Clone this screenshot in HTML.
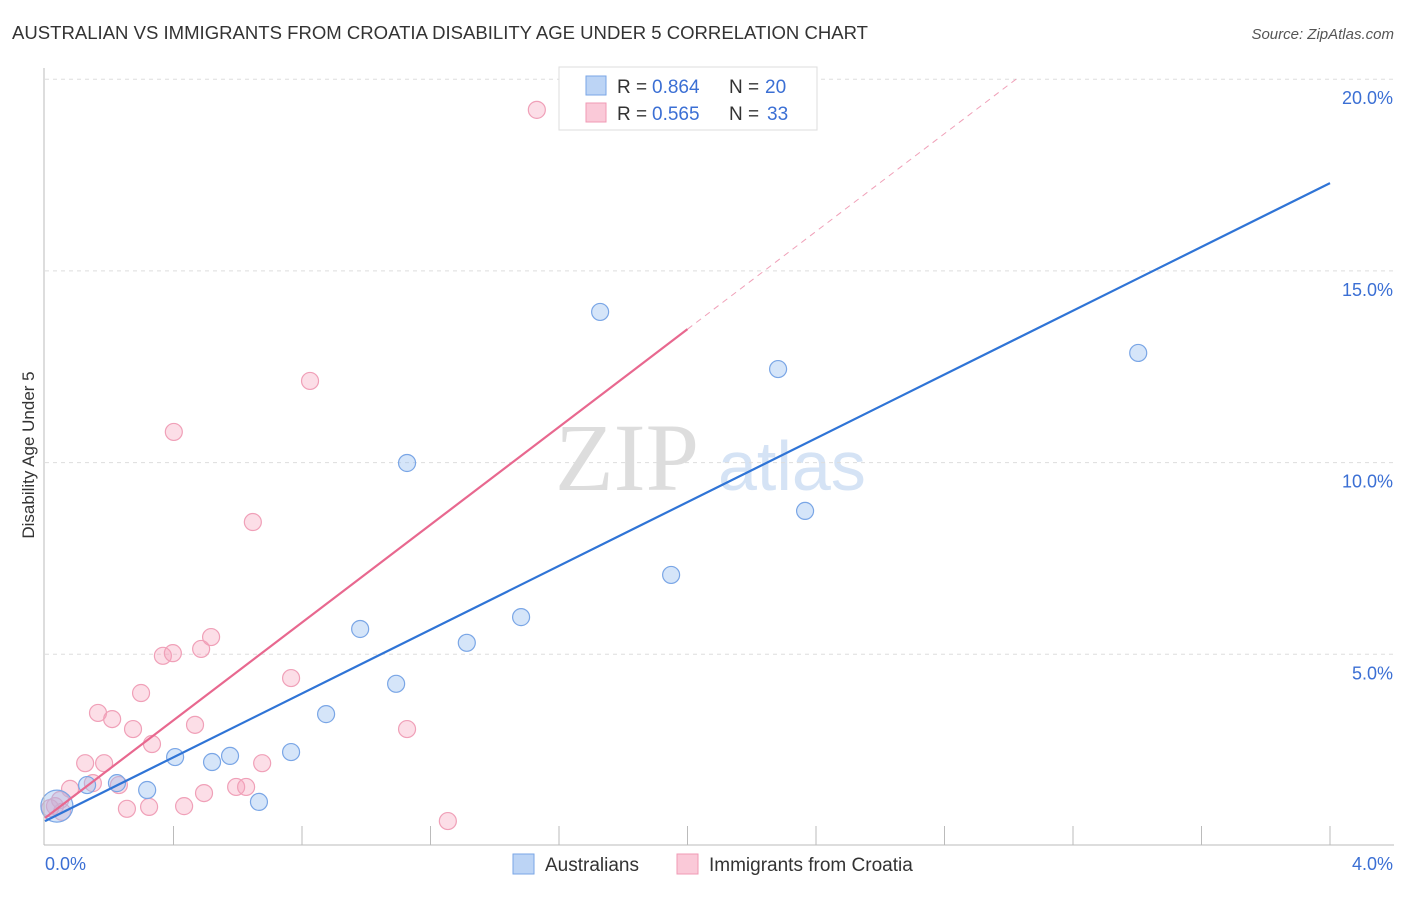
<!DOCTYPE html>
<html><head><meta charset="utf-8"><style>
body{margin:0;background:#fff;font-family:"Liberation Sans",sans-serif}
</style></head><body>
<svg id="c" width="1406" height="892" xmlns="http://www.w3.org/2000/svg">
<text x="12" y="39" font-size="18" fill="#333" textLength="856" lengthAdjust="spacingAndGlyphs">AUSTRALIAN VS IMMIGRANTS FROM CROATIA DISABILITY AGE UNDER 5 CORRELATION CHART</text>
<text x="1394" y="39" font-size="15" fill="#555" font-style="italic" text-anchor="end">Source: ZipAtlas.com</text>
<text transform="translate(34,455) rotate(-90)" font-size="17" fill="#333" text-anchor="middle">Disability Age Under 5</text>
<text x="555" y="490" font-size="96" fill="#ddd" font-family="Liberation Serif">ZIP</text>
<text x="718" y="490" font-size="70" fill="#d5e3f5">atlas</text>
<g id="grid"></g><g id="pts"></g><g id="lines"></g>
<line x1="44" y1="845" x2="1394" y2="845" stroke="#bbb"/>
<line x1="44" y1="68" x2="44" y2="845" stroke="#bbb"/>
<text x="45" y="870" font-size="18" fill="#3b6fd4">0.0%</text>
<text x="1393" y="870" font-size="18" fill="#3b6fd4" text-anchor="end">4.0%</text>
<g>
<rect x="559" y="67" width="258" height="63" fill="#fff" stroke="#ddd"/>
<rect x="586" y="76" width="20" height="19" fill="#bcd4f5" stroke="#7aa6e6"/>
<rect x="586" y="103" width="20" height="19" fill="#fac9d8" stroke="#f09ab5"/>
<text x="617" y="93" font-size="19" fill="#333">R =</text>
<text x="652" y="93" font-size="19" fill="#3b6fd4">0.864</text>
<text x="729" y="93" font-size="19" fill="#333">N =</text>
<text x="765" y="93" font-size="19" fill="#3b6fd4">20</text>
<text x="617" y="120" font-size="19" fill="#333">R =</text>
<text x="652" y="120" font-size="19" fill="#3b6fd4">0.565</text>
<text x="729" y="120" font-size="19" fill="#333">N =</text>
<text x="767" y="120" font-size="19" fill="#3b6fd4">33</text>
</g>
<g>
<rect x="513" y="854" width="21" height="20" fill="#bcd4f5" stroke="#7aa6e6"/>
<text x="545" y="871" font-size="19" fill="#333">Australians</text>
<rect x="677" y="854" width="21" height="20" fill="#fac9d8" stroke="#f09ab5"/>
<text x="709" y="871" font-size="19" fill="#333">Immigrants from Croatia</text>
</g>
</svg>
<script>
const blueX=[0.037,0.131,0.224,0.318,0.405,0.52,0.576,0.666,0.766,0.875,0.981,1.093,1.127,1.313,1.482,1.728,1.949,2.282,2.366,3.403];
const blueY=[1.04,1.59,1.64,1.46,2.32,2.19,2.35,1.15,2.45,3.44,5.66,4.23,9.99,5.30,5.97,13.93,7.07,12.44,8.74,12.86];
const pinkX=[0.031,0.053,0.078,0.125,0.149,0.165,0.184,0.209,0.230,0.255,0.274,0.299,0.324,0.333,0.367,0.398,0.401,0.433,0.467,0.486,0.495,0.517,0.595,0.626,0.647,0.676,0.766,0.825,1.127,1.254,1.531,0.047,0.016];
const pinkY=[1.04,0.89,1.49,2.16,1.64,3.47,2.16,3.31,1.59,0.97,3.05,3.99,1.02,2.66,4.96,5.03,10.80,1.04,3.16,5.14,1.38,5.45,1.54,1.54,8.45,2.16,4.38,12.13,3.05,0.65,19.20,1.20,0.99];
const yTicks=[5,10,15,20];
const yTickLabels=["5.0%","10.0%","15.0%","20.0%"];
const xTicks=[0.4,0.8,1.2,1.6,2.0,2.4,2.8,3.2,3.6,4.0];
const blueLine=[0.65,17.29];
const pinkLine=[0.73,13.48,2.0];
const NS="http://www.w3.org/2000/svg";
const sx=v=>45+v/4*1285, sy=v=>846-v/5*191.7;
function mk(t,a,p){const e=document.createElementNS(NS,t);for(const k in a)e.setAttribute(k,a[k]);p.appendChild(e);return e;}
const g=document.getElementById('grid');
yTicks.forEach((t,i)=>{
 const l=mk('line',{x1:45,x2:1394,y1:sy(t),y2:sy(t),stroke:'#ddd','stroke-dasharray':'4,4'},g);
 
 
 const tx=mk('text',{x:1393,y:sy(t)+25,'font-size':18,fill:'#3b6fd4','text-anchor':'end'},g);
 tx.textContent=yTickLabels[i];
 
 
});
xTicks.forEach(t=>{
 const l=mk('line',{x1:sx(t),x2:sx(t),y1:826,y2:845,stroke:'#bbb'},g);
 
 
});
const p=document.getElementById('pts');
pinkX.forEach((x,i)=>{
 const c=mk('circle',{cx:sx(x),cy:sy(pinkY[i]),r:8.5,fill:'rgba(245,160,185,0.35)',stroke:'#f0a0b8','stroke-width':1.2},p);
 
 
});
blueX.forEach((x,i)=>{
 const c=mk('circle',{cx:sx(x),cy:sy(blueY[i]),r:i==0?16:8.5,fill:'rgba(150,190,240,0.4)',stroke:'#7aa6e6','stroke-width':1.2},p);
 
 
});
const L=document.getElementById('lines');
let b=mk('line',{x1:sx(0),y1:sy(blueLine[0]),x2:sx(4),y2:sy(blueLine[1]),stroke:'#2f74d6','stroke-width':2.2},L);


const slope=(pinkLine[1]-pinkLine[0])/pinkLine[2];
let pk=mk('line',{x1:sx(0),y1:sy(pinkLine[0]),x2:sx(pinkLine[2]),y2:sy(pinkLine[1]),stroke:'#e8688f','stroke-width':2.2},L);


const xe=(20-pinkLine[0])/slope;
let pd=mk('line',{x1:sx(pinkLine[2]),y1:sy(pinkLine[1]),x2:sx(xe),y2:sy(20),stroke:'#f0a0b8','stroke-width':1,'stroke-dasharray':'6,5'},L);


</script>
</body></html>
